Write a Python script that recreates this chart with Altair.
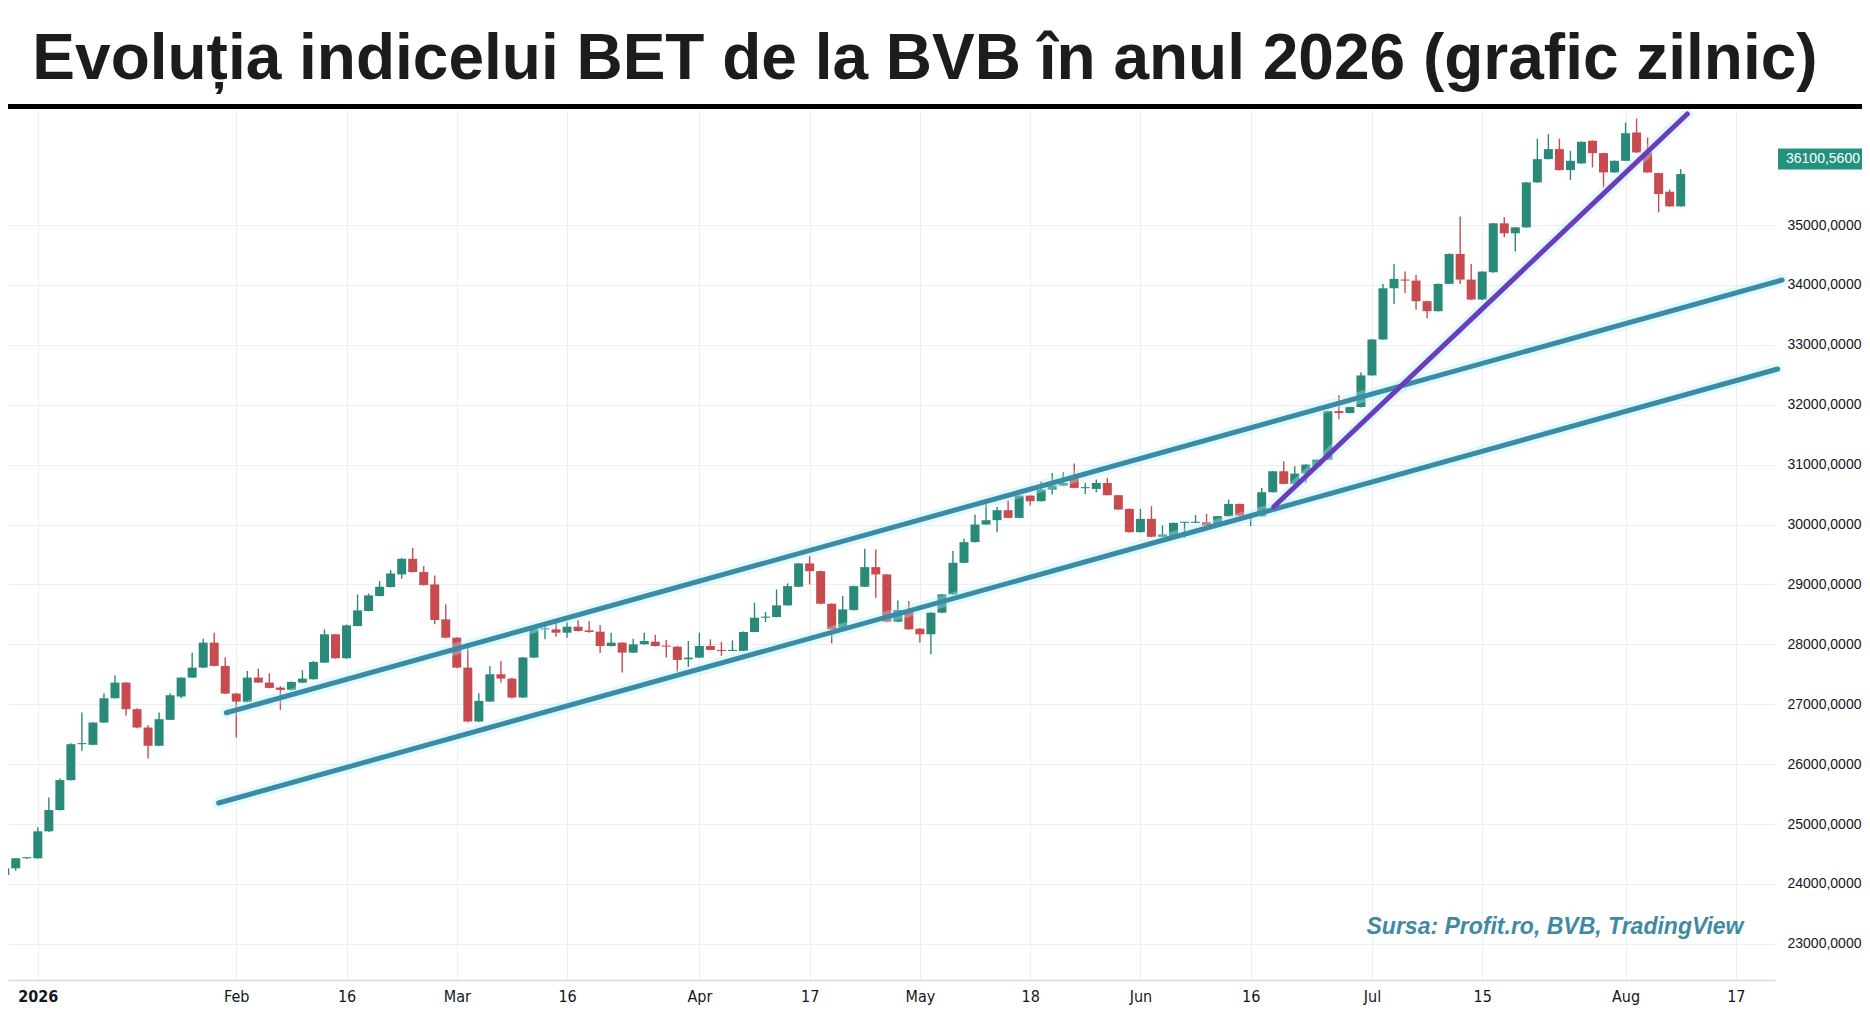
import altair as alt
import pandas as pd

# ---------------- data ----------------
TITLE = "Evoluția indicelui BET de la BVB în anul 2026 (grafic zilnic)"
SOURCE = "Sursa: Profit.ro, BVB, TradingView"

# trading-day index (0 = first session of 2026)
bar_index = list(range(-3, 150))
opens = [24150, 24261, 24428, 24428, 24878, 25233, 25733, 26333, 26322, 26694,
         27100, 27361, 26917, 26611, 26306, 26739, 27128, 27444, 27611, 28028,
         27639, 27178, 27039, 27444, 27361, 27278, 27239, 27361, 27417, 27694,
         28167, 27767, 28306, 28556, 28806, 28956, 29167, 29428, 29206, 29000,
         28417, 28111, 27611, 26711, 27044, 27500, 27428, 27111, 27778, 28250,
         28250, 28194, 28294, 28233, 28211, 27972, 28028, 27861, 28000, 28044,
         27972, 27961, 27750, 27778, 27972, 27906, 27889, 27889, 28206, 28444,
         28456, 28650, 28961, 29350, 29222, 28678, 28278, 28572, 28961, 29289,
         29167, 28378, 28572, 28261, 28167, 28528, 28833, 29361, 29706, 30000,
         30072, 30239, 30111, 30483, 30389, 30583, 30650, 30778, 30606, 30594,
         30694, 30489, 30261, 29872, 30094, 29794, 29806, 30028, 30028, 30039,
         29983, 30139, 30344, 30150, 30139, 30539, 30889, 30678, 30850, 30972,
         31083, 31894, 31861, 31961, 32489, 33089, 33944, 34089, 34072, 33728,
         33561, 34017, 34517, 34089, 33756, 34211, 35028, 34861, 34961, 35711,
         36100, 36267, 35917, 36028, 36406, 36200, 35878, 36072, 36544, 36211,
         35867, 35556, 35311]
highs = [24300, 24428, 24440, 24944, 25444, 25761, 26350, 26861, 26700, 27183,
         27483, 27370, 26933, 26650, 26861, 27183, 27450, 27861, 28094, 28194,
         27778, 27190, 27556, 27594, 27517, 27300, 27380, 27567, 27722, 28250,
         28175, 28330, 28833, 28850, 29056, 29239, 29440, 29611, 29306, 29150,
         28667, 28120, 27944, 27183, 27639, 27722, 27440, 27790, 28260, 28306,
         28361, 28372, 28400, 28389, 28317, 28194, 28035, 28094, 28194, 28156,
         28072, 27970, 28056, 28194, 28083, 28039, 28067, 28215, 28694, 28539,
         28917, 29017, 29360, 29472, 29230, 28685, 28806, 28980, 29594, 29583,
         29175, 28733, 28722, 28270, 28535, 28840, 29556, 29761, 30167, 30350,
         30294, 30400, 30490, 30490, 30722, 30861, 30872, 31017, 30694, 30750,
         30778, 30495, 30267, 30261, 30306, 29983, 30034, 30040, 30156, 30178,
         30145, 30417, 30350, 30194, 30611, 30895, 31056, 30972, 31006, 31090,
         31900, 32156, 31967, 32544, 33095, 34017, 34350, 34222, 34167, 33735,
         34023, 34523, 35144, 34350, 34228, 35034, 35128, 34967, 35717, 36444,
         36517, 36444, 36239, 36395, 36412, 36206, 36078, 36711, 36778, 36461,
         35873, 35594, 35933]
lows = [24080, 24220, 24415, 24420, 24870, 25225, 25725, 26222, 26315, 26690,
        27095, 26806, 26600, 26094, 26300, 26735, 27100, 27440, 27605, 27630,
        27170, 26444, 27030, 27355, 27265, 26906, 27225, 27355, 27410, 27690,
        27760, 27760, 28300, 28550, 28800, 28950, 29094, 29200, 28980, 28333,
        28100, 27600, 26700, 26700, 27040, 27361, 27095, 27105, 27770, 28083,
        28128, 28111, 28215, 28195, 27861, 27965, 27528, 27855, 27995, 27965,
        27778, 27544, 27622, 27772, 27900, 27806, 27884, 27884, 28200, 28372,
        28450, 28645, 28955, 29000, 28670, 28017, 28270, 28565, 28955, 28778,
        28370, 28370, 28245, 28028, 27833, 28520, 28825, 29355, 29700, 29995,
        29872, 30105, 30105, 30317, 30383, 30500, 30645, 30605, 30511, 30539,
        30485, 30245, 29866, 29866, 29788, 29788, 29800, 29778, 30022, 29977,
        29977, 30133, 30144, 29972, 30133, 30533, 30672, 30660, 30700, 30966,
        31077, 31756, 31855, 31955, 32483, 33083, 33683, 33867, 33589, 33444,
        33555, 34011, 34017, 33750, 33750, 34205, 34794, 34556, 34955, 35705,
        36094, 35911, 35750, 36022, 35961, 35628, 35872, 36066, 36205, 35872,
        35211, 35305, 35305]
closes = [24261, 24428, 24432, 24878, 25233, 25733, 26333, 26340, 26694, 27100,
          27361, 26917, 26611, 26306, 26750, 27150, 27444, 27611, 28028, 27639,
          27178, 27044, 27444, 27361, 27272, 27239, 27372, 27428, 27706, 28167,
          27767, 28317, 28567, 28817, 28961, 29183, 29428, 29206, 28989, 28406,
          28111, 27611, 26711, 27056, 27500, 27428, 27111, 27778, 28250, 28255,
          28194, 28294, 28222, 28206, 27972, 28028, 27861, 28000, 28056, 27972,
          27961, 27739, 27778, 27972, 27906, 27889, 27895, 28206, 28444, 28456,
          28650, 28972, 29350, 29222, 28678, 28250, 28583, 28972, 29289, 29167,
          28378, 28572, 28250, 28167, 28528, 28833, 29361, 29706, 30000, 30072,
          30239, 30111, 30483, 30389, 30583, 30650, 30694, 30611, 30610, 30694,
          30489, 30250, 29872, 30094, 29794, 29833, 30028, 30032, 30039, 29983,
          30139, 30344, 30150, 30161, 30539, 30889, 30678, 30850, 31000, 31083,
          31894, 31861, 31961, 32489, 33089, 33944, 34100, 34072, 33728, 33561,
          34017, 34517, 34089, 33756, 34222, 35028, 34861, 34961, 35711, 36100,
          36267, 35917, 36072, 36389, 36200, 35878, 36072, 36533, 36211, 35878,
          35517, 35311, 35850]

# x-axis tick positions (trading-day index) and their labels
tick_index = [0, 18, 28, 38, 48, 60, 70, 80, 90, 100, 110, 121, 131, 144, 154]
tick_labels = ["2026", "Feb", "16", "Mar", "16", "Apr", "17", "May", "18",
               "Jun", "16", "Jul", "15", "Aug", "17"]
price_ticks = [23000, 24000, 25000, 26000, 27000, 28000, 29000, 30000,
               31000, 32000, 33000, 34000, 35000]

# hand-drawn trend lines: (index, value) endpoints
line_names = ["upper", "upper", "lower", "lower", "steep", "steep"]
line_index = [17.1, 158.2, 16.4, 157.8, 112.1, 149.6]
line_value = [26858, 34082, 25351, 32596, 30297, 36853]

last_price = [36100.56]
last_label = ["36100,5600"]

# ---------------- styling ----------------
W, H = 1767, 870
GREEN = "#2a8a7a"
RED = "#c84b50"
CHANNEL = "#3a8ca6"
PURPLE = "#6a3cbe"
GRID = "#eceef2"

n = min(len(bar_index), len(opens), len(highs), len(lows), len(closes))
candles = pd.DataFrame({
    "i": bar_index[:n], "o": opens[:n], "h": highs[:n],
    "l": lows[:n], "c": closes[:n],
})
lines = pd.DataFrame({"line": line_names, "i": line_index, "v": line_value})
price = pd.DataFrame({"v": last_price, "t": last_label})
one = pd.DataFrame({"k": [0]})

xscale = alt.Scale(domain=[-2.25, 157.1], nice=False, zero=False)
yscale = alt.Scale(domain=[22396, 36920], nice=False, zero=False)

label_expr = ""
for v, t in zip(tick_index, tick_labels):
    label_expr += f"datum.value == {v} ? '{t}' : "
label_expr += "''"

x_axis = alt.Axis(
    values=tick_index, labelExpr=label_expr, title=None, grid=True,
    gridColor=GRID, gridWidth=1, ticks=False, domain=True,
    domainColor="#d6d9e0", domainWidth=1.5, labelFontSize=16,
    labelColor="#131722", labelPadding=8, labelFlush=False,
    labelFont="Liberation Sans Narrow, DejaVu Sans Condensed, Liberation Sans",
    labelFontWeight={"condition": {"test": "datum.value == 0", "value": "bold"},
                     "value": "normal"},
)
y_axis = alt.Axis(
    orient="right", values=price_ticks, title=None, grid=True,
    gridColor=GRID, gridWidth=1, ticks=False, domain=False,
    labelExpr="replace(format(datum.value, '.4f'), '.', ',')",
    labelFontSize=14, labelColor="#131722", labelPadding=12,
    labelFont="Liberation Sans", labelAlign="left",
)

color = alt.Color(
    "dir:N", scale=alt.Scale(domain=["up", "down"], range=[GREEN, RED]),
    legend=None,
)

base = alt.Chart(candles).transform_calculate(
    dir="datum.c >= datum.o ? 'up' : 'down'",
    bot="min(datum.o, datum.c)",
    top="max(max(datum.o, datum.c), min(datum.o, datum.c) + 18)",
)

wicks = base.mark_rule(strokeWidth=1.4, clip=True).encode(
    x=alt.X("i:Q", scale=xscale, axis=x_axis),
    y=alt.Y("l:Q", scale=yscale, axis=y_axis),
    y2="h:Q",
    color=color,
)
bodies = base.mark_bar(size=9, clip=True).encode(
    x=alt.X("i:Q", scale=xscale),
    y=alt.Y("bot:Q", scale=yscale),
    y2="top:Q",
    color=color,
)

glow = alt.Chart(lines).mark_line(
    strokeWidth=12, opacity=0.35, color="#aeeef5", strokeCap="round"
).encode(
    x=alt.X("i:Q", scale=xscale), y=alt.Y("v:Q", scale=yscale),
    detail="line:N",
)
channel = alt.Chart(lines).transform_filter(
    "datum.line != 'steep'"
).mark_line(strokeWidth=5, strokeCap="round", color=CHANNEL).encode(
    x=alt.X("i:Q", scale=xscale), y=alt.Y("v:Q", scale=yscale),
    detail="line:N",
)
steep = alt.Chart(lines).transform_filter(
    "datum.line == 'steep'"
).mark_line(strokeWidth=5, strokeCap="round", color=PURPLE).encode(
    x=alt.X("i:Q", scale=xscale), y=alt.Y("v:Q", scale=yscale),
)

title_rule = alt.Chart(one).mark_rule(color="#000000", strokeWidth=5).encode(
    x=alt.value(0), x2=alt.value(W + 87), y=alt.value(-3.5),
)
title_txt = alt.Chart(one).mark_text(
    text=TITLE, font="Liberation Sans Narrow, Arial Narrow, Liberation Sans",
    fontWeight="bold", fontSize=64, color="#1c1c1c", align="center",
    baseline="alphabetic",
).encode(x=alt.value(917), y=alt.value(-31))

source_txt = alt.Chart(one).mark_text(
    text=SOURCE, font="Liberation Sans", fontWeight="bold", fontStyle="italic",
    fontSize=23, color="#3f8aa3", align="center", baseline="middle",
).encode(x=alt.value(1547), y=alt.value(817))

price_box = alt.Chart(price).mark_tick(
    orient="horizontal", size=90, thickness=21, color="#22917f", opacity=1,
).encode(x=alt.value(W + 48), y=alt.Y("v:Q", scale=yscale))
price_txt = alt.Chart(price).mark_text(
    color="white", fontSize=14, font="Liberation Sans", align="center",
    baseline="middle",
).encode(x=alt.value(W + 48), y=alt.Y("v:Q", scale=yscale), text="t:N")

chart = alt.layer(
    wicks, bodies, glow, channel, steep, title_rule, title_txt, source_txt,
    price_box, price_txt,
).properties(
    width=W, height=H,
    padding={"left": 0, "top": 102, "right": 87, "bottom": 25},
    autosize=alt.AutoSizeParams(type="none"),
    background="white",
).configure_view(stroke=None)

chart.save("out.html", embed_options={"renderer": "svg", "actions": False})
